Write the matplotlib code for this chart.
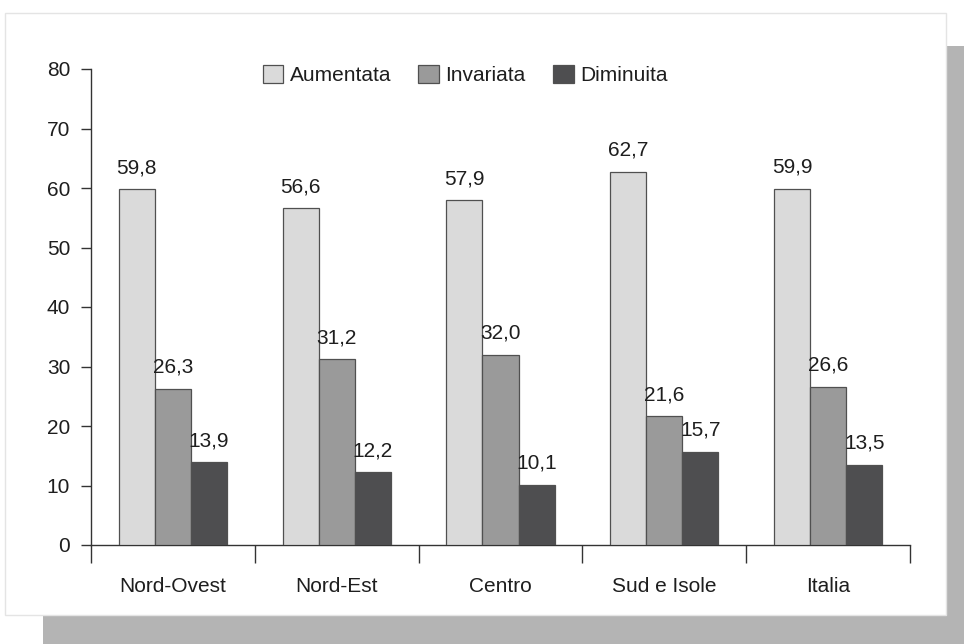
import matplotlib
matplotlib.use("Agg")
import matplotlib.pyplot as plt
from matplotlib.patches import Rectangle
import numpy as np

categories = ["Nord-Ovest", "Nord-Est", "Centro", "Sud e Isole", "Italia"]
series_names = ["Aumentata", "Invariata", "Diminuita"]
aumentata = [59.8, 56.6, 57.9, 62.7, 59.9]
invariata = [26.3, 31.2, 32.0, 21.6, 26.6]
diminuita = [13.9, 12.2, 10.1, 15.7, 13.5]
y_ticks = [0, 10, 20, 30, 40, 50, 60, 70, 80]

colors = ["#dadada", "#9a9a9a", "#4e4e50"]
edge = "#505050"
text_color = "#1e1e1e"
fs = 15

plt.rcParams["font.family"] = ["Liberation Sans", "DejaVu Sans"]

fig = plt.figure(figsize=(9.64, 6.44), dpi=100)
W, H = 964, 644

# drop shadow and white panel behind the chart
fig.patches.append(Rectangle((43 / W, 0), (W - 43) / W, (644 - 46) / H,
                             transform=fig.transFigure, facecolor="#b4b4b4",
                             edgecolor="none", zorder=-2))
fig.patches.append(Rectangle((5 / W, 1 - 615 / H), (946 - 5) / W, (615 - 13) / H,
                             transform=fig.transFigure, facecolor="white",
                             edgecolor="#e4e4e4", linewidth=1.0, zorder=-1))

ax = fig.add_axes([91 / W, 1 - 545 / H, (910 - 91) / W, (545 - 69) / H])
ax.set_facecolor("none")
ax.set_zorder(2)

x = np.arange(len(categories))
width = 0.22
series = [aumentata, invariata, diminuita]
for i, (vals, name, c) in enumerate(zip(series, series_names, colors)):
    pos = x + (i - 1) * width
    bars = ax.bar(pos, vals, width=width, color=c, edgecolor=edge,
                  linewidth=0.9, label=name, zorder=3)
    for b, v in zip(bars, vals):
        ax.text(b.get_x() + b.get_width() / 2, v + 2.7,
                f"{v:.1f}".replace(".", ","), ha="center", va="baseline",
                fontsize=fs, color=text_color)

ax.set_xlim(-0.5, len(categories) - 0.5)
ax.set_ylim(0, 80)
ax.set_yticks(y_ticks)
ax.set_yticklabels([str(t) for t in y_ticks], fontsize=fs, color=text_color)

ax.set_xticks(x)
ax.set_xticklabels(categories, fontsize=fs, color=text_color)
ax.tick_params(axis="x", length=0, pad=23)
ax.set_xticks(np.arange(len(categories) + 1) - 0.5, minor=True)
ax.tick_params(axis="x", which="minor", length=13, width=1.0, color="#333333",
               direction="out")
ax.tick_params(axis="y", length=7, width=1.0, color="#333333", pad=8)

for s in ["top", "right"]:
    ax.spines[s].set_visible(False)
for s in ["left", "bottom"]:
    ax.spines[s].set_color("#333333")
    ax.spines[s].set_linewidth(1.0)

leg = ax.legend(loc="center", bbox_to_anchor=(465 / W, 1 - 75 / H),
                bbox_transform=fig.transFigure, ncol=3, frameon=False,
                fontsize=fs, handlelength=1.0, handleheight=1.0,
                handletextpad=0.3, columnspacing=1.3, borderpad=0)
for t in leg.get_texts():
    t.set_color(text_color)

fig.savefig("out.png", dpi=100)
